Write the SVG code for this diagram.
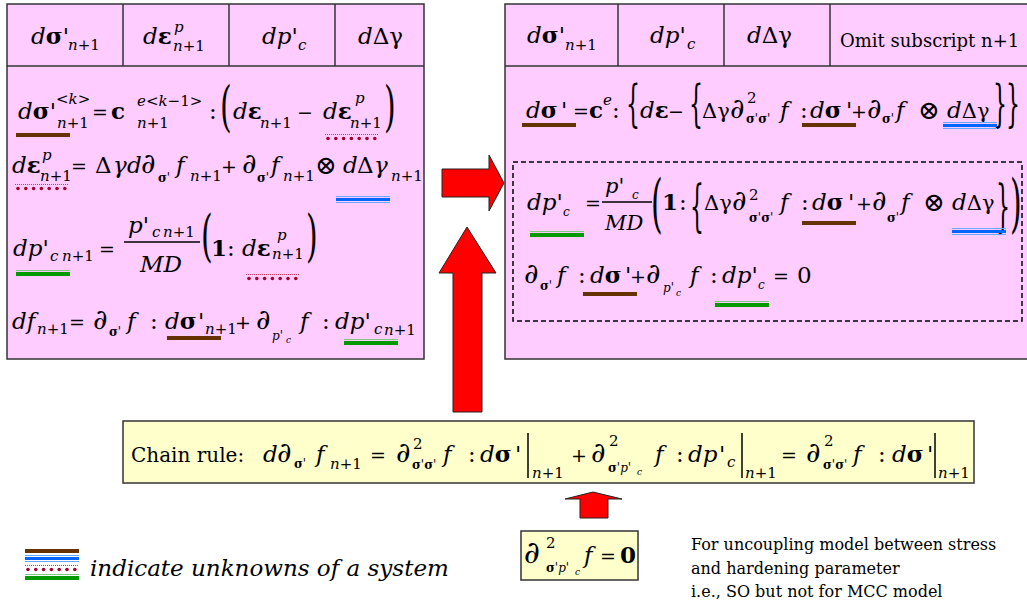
<svg xmlns="http://www.w3.org/2000/svg" width="1027" height="610" viewBox="0 0 1027 610">
<defs>
<style>
.t{font-family:'DejaVu Serif',serif;fill:#000}
.m{font-size:23px}
.n{font-size:21px}
.i{font-style:italic}
.b{font-weight:bold}
.s{font-size:15px}
.x{font-size:12px}
.y{font-size:9px}
.o{font-size:19px}
.g{font-size:21px}
.p{font-size:28px}
.q{font-size:26px}
.box{fill:#ffccff;stroke:#333;stroke-width:1.5}
.yb{fill:#ffffcc;stroke:#333;stroke-width:1.5}
.ln{stroke:#333;stroke-width:1.5;fill:none}
.bar{stroke:#000;stroke-width:1.5}
.arr{fill:#ff0000;stroke:#222;stroke-width:1}
.note{font-family:'DejaVu Serif',serif;font-size:16px;fill:#000}
</style>
<g id="ub"><rect x="0" y="0" width="54" height="4" fill="#663300"/></g>
<g id="ug"><rect x="0" y="0" width="54" height="1" fill="#80c880"/><rect x="0" y="2" width="54" height="4" fill="#009900"/></g>
<g id="ul"><rect x="0" y="0" width="54" height="1" fill="#66aaff"/><rect x="0" y="2" width="54" height="3" fill="#0066ff"/><rect x="0" y="6" width="54" height="1" fill="#66aaff"/></g>
<g id="ur"><line x1="0" y1="0.5" x2="54" y2="0.5" stroke="#cc3366" stroke-width="1" stroke-dasharray="1,1"/><g fill="#a00030"><circle cx="3" cy="4.5" r="1.8"/><circle cx="10.8" cy="4.5" r="1.8"/><circle cx="18.6" cy="4.5" r="1.8"/><circle cx="26.4" cy="4.5" r="1.8"/><circle cx="34.2" cy="4.5" r="1.8"/><circle cx="42" cy="4.5" r="1.8"/><circle cx="49.8" cy="4.5" r="1.8"/></g></g>
</defs>
<rect width="1027" height="610" fill="#fff"/>

<g id="arrows">
<polygon class="arr" points="442,169 489,169 489,155 504,183 489,211 489,197 442,197"/>
<polygon class="arr" points="453,412 453,273 439,273 467,227 496,273 482,273 482,412"/>
<polygon class="arr" points="580,518 580,499 565,499 593,492 622,499 608,499 608,518"/>
</g>

<g id="left">
<rect class="box" x="7" y="4" width="417" height="355"/>
<line class="ln" x1="7" y1="66" x2="424" y2="66"/>
<line class="ln" x1="123" y1="4" x2="123" y2="66"/>
<line class="ln" x1="229" y1="4" x2="229" y2="66"/>
<line class="ln" x1="335" y1="4" x2="335" y2="66"/>
<text class="t m"><tspan class="i" x="31" y="44">d</tspan><tspan class="b">σ</tspan><tspan>'</tspan><tspan class="s i" x="68" y="50">n</tspan><tspan class="s">+1</tspan></text>
<text class="t m"><tspan class="i" x="143" y="44">d</tspan><tspan class="b">ε</tspan><tspan class="s i" x="174" y="32">p</tspan><tspan class="s i" x="173" y="51">n</tspan><tspan class="s">+1</tspan></text>
<text class="t m"><tspan class="i" x="262" y="44">dp</tspan><tspan>'</tspan><tspan class="s i" x="298" y="50">c</tspan></text>
<text class="t m"><tspan class="i" x="358" y="44">d</tspan><tspan>Δγ</tspan></text>

<text class="t m"><tspan class="i" x="18" y="119">d</tspan><tspan class="b">σ</tspan><tspan>'</tspan><tspan class="s" x="56" y="104">&lt;</tspan><tspan class="s i">k</tspan><tspan class="s">&gt;</tspan><tspan class="s i" x="57" y="128">n</tspan><tspan class="s">+1</tspan><tspan class="o" x="92" y="119">=</tspan><tspan class="b" x="111" y="119">c</tspan><tspan class="s i" x="137" y="106">e</tspan><tspan class="s">&lt;</tspan><tspan class="s i">k</tspan><tspan class="s">−1&gt;</tspan><tspan class="s i" x="137" y="128">n</tspan><tspan class="s">+1</tspan><tspan x="209" y="119">:</tspan><tspan class="i" x="233" y="119">d</tspan><tspan class="b">ε</tspan><tspan class="s i" x="260" y="128">n</tspan><tspan class="s">+1</tspan><tspan class="o" x="297" y="119">−</tspan><tspan class="i" x="323" y="119">d</tspan><tspan class="b">ε</tspan><tspan class="s i" x="355" y="103">p</tspan><tspan class="s i" x="350" y="128">n</tspan><tspan class="s">+1</tspan></text>
<text class="t" font-size="30" transform="translate(220,124.8) scale(1,1.835)">(</text>
<text class="t" font-size="30" transform="translate(384,124.8) scale(1,1.835)">)</text>
<use href="#ub" x="16" y="133"/>
<use href="#ur" x="325" y="134"/>

<text class="t m"><tspan class="i" x="12" y="173">d</tspan><tspan class="b">ε</tspan><tspan class="s i" x="42" y="160">p</tspan><tspan class="s i" x="40" y="181">n</tspan><tspan class="s">+1</tspan><tspan class="o" x="71" y="173">=</tspan><tspan x="95" y="173">Δ</tspan><tspan class="i" x="113" y="173">γ</tspan><tspan class="i" x="127" y="173">d</tspan><tspan class="p" x="141" y="173">∂</tspan><tspan class="b x" x="158" y="182">σ</tspan><tspan class="x">'</tspan><tspan class="i" x="176" y="173">f</tspan><tspan class="s i" x="190" y="181">n</tspan><tspan class="s">+1</tspan><tspan class="o" x="221" y="173">+</tspan><tspan class="p" x="242" y="173">∂</tspan><tspan class="b x" x="257" y="182">σ</tspan><tspan class="x">'</tspan><tspan class="i" x="271" y="173">f</tspan><tspan class="s i" x="283" y="181">n</tspan><tspan class="s">+1</tspan><tspan class="q" x="315" y="174">⊗</tspan><tspan class="i" x="343" y="173">d</tspan><tspan x="357" y="173">Δ</tspan><tspan class="i" x="374" y="173">γ</tspan><tspan class="s i" x="391" y="181">n</tspan><tspan class="s">+1</tspan></text>
<use href="#ur" x="15" y="184"/>
<use href="#ul" x="336" y="196"/>

<text class="t m"><tspan class="i" x="13" y="256">dp</tspan><tspan>'</tspan><tspan class="s i" x="50" y="261">c</tspan><tspan class="s i" x="62" y="261">n</tspan><tspan class="s">+1</tspan><tspan class="o" x="99" y="256">=</tspan><tspan class="i" x="128" y="233">p</tspan><tspan>'</tspan><tspan class="s i" x="152" y="237">c</tspan><tspan class="s i" x="163" y="237">n</tspan><tspan class="s">+1</tspan><tspan class="i" x="140" y="272">MD</tspan><tspan class="b" x="211" y="256">1</tspan><tspan x="227" y="256">:</tspan><tspan class="i" x="242" y="256">d</tspan><tspan class="b">ε</tspan><tspan class="s i" x="277" y="240">p</tspan><tspan class="s i" x="272" y="259">n</tspan><tspan class="s">+1</tspan></text>
<line class="bar" x1="124" y1="242" x2="200" y2="242"/>
<text class="t" font-size="30" transform="translate(201,254.7) scale(1,1.87)">(</text>
<text class="t" font-size="30" transform="translate(306,254.7) scale(1,1.87)">)</text>
<use href="#ug" x="16" y="270"/>
<use href="#ur" x="246" y="274"/>

<text class="t m"><tspan class="i" x="12" y="329">df</tspan><tspan class="s i" x="37" y="334">n</tspan><tspan class="s">+1</tspan><tspan class="o" x="69" y="329">=</tspan><tspan class="p" x="93" y="329">∂</tspan><tspan class="b x" x="109" y="336">σ</tspan><tspan class="x">'</tspan><tspan class="i" x="127" y="329">f</tspan><tspan x="150" y="329">:</tspan><tspan class="i" x="165" y="329">d</tspan><tspan class="b">σ</tspan><tspan x="198" y="329">'</tspan><tspan class="s i" x="205" y="334">n</tspan><tspan class="s">+1</tspan><tspan class="o" x="235" y="329">+</tspan><tspan class="p" x="256" y="329">∂</tspan><tspan class="i x" x="272" y="340">p</tspan><tspan class="x">'</tspan><tspan class="i y" x="286" y="343">c</tspan><tspan class="i" x="300" y="329">f</tspan><tspan x="322" y="329">:</tspan><tspan class="i" x="335" y="329">dp</tspan><tspan>'</tspan><tspan class="s i" x="374" y="334">c</tspan><tspan class="s i" x="384" y="335">n</tspan><tspan class="s">+1</tspan></text>
<use href="#ub" x="167" y="336"/>
<use href="#ug" x="344" y="339"/>
</g>

<g id="right">
<rect class="box" x="505" y="4" width="540" height="355"/>
<line class="ln" x1="505" y1="66" x2="1027" y2="66"/>
<line class="ln" x1="618" y1="4" x2="618" y2="66"/>
<line class="ln" x1="724" y1="4" x2="724" y2="66"/>
<line class="ln" x1="830" y1="4" x2="830" y2="66"/>
<text class="t m"><tspan class="i" x="527" y="43">d</tspan><tspan class="b">σ</tspan><tspan>'</tspan><tspan class="s i" x="565" y="50">n</tspan><tspan class="s">+1</tspan></text>
<text class="t m"><tspan class="i" x="650" y="43">dp</tspan><tspan>'</tspan><tspan class="s i" x="687" y="49">c</tspan></text>
<text class="t m"><tspan class="i" x="747" y="43">d</tspan><tspan>Δγ</tspan></text>
<text class="t" font-size="18" x="840" y="47">Omit subscript n+1</text>

<text class="t m"><tspan class="i" x="526" y="118">d</tspan><tspan class="b">σ</tspan><tspan x="561" y="118">'</tspan><tspan class="o" x="573" y="118">=</tspan><tspan class="b" x="589" y="118">c</tspan><tspan class="s i" x="603" y="105">e</tspan><tspan x="612" y="118">:</tspan><tspan class="i" x="640" y="118">d</tspan><tspan class="b">ε</tspan><tspan class="o" x="668" y="118">−</tspan><tspan class="g" x="702" y="118">Δγ</tspan><tspan class="p" x="730" y="118">∂</tspan><tspan class="s" x="747" y="103">2</tspan><tspan class="b x" x="746" y="123">σ</tspan><tspan class="x">'</tspan><tspan class="b x">σ</tspan><tspan class="x">'</tspan><tspan class="i" x="780" y="118">f</tspan><tspan x="800" y="118">:</tspan><tspan class="i" x="810" y="118">d</tspan><tspan class="b">σ</tspan><tspan x="846" y="118">'</tspan><tspan class="o" x="851" y="118">+</tspan><tspan class="p" x="867" y="118">∂</tspan><tspan class="b x" x="882" y="123">σ</tspan><tspan class="x">'</tspan><tspan class="i" x="896" y="118">f</tspan><tspan class="q" x="918" y="119">⊗</tspan><tspan class="i" x="947" y="118">d</tspan><tspan class="g">Δγ</tspan></text>
<text class="t" font-size="22" transform="translate(626,120.6) scale(1,2.25)">{</text>
<text class="t" font-size="22" transform="translate(689,120.6) scale(1,2.25)">{</text>
<text class="t" font-size="22" transform="translate(993,120.6) scale(1,2.25)">}</text>
<text class="t" font-size="22" transform="translate(1006,120.6) scale(1,2.25)">}</text>
<use href="#ub" x="522" y="123"/>
<use href="#ub" x="802" y="123"/>
<use href="#ul" x="943" y="122"/>

<rect x="513" y="162" width="509" height="159" fill="none" stroke="#000" stroke-width="1.5" stroke-dasharray="5,3"/>

<text class="t m"><tspan class="i" x="527" y="210">dp</tspan><tspan>'</tspan><tspan class="i x" x="563" y="216">c</tspan><tspan class="o" x="585" y="210">=</tspan><tspan class="i n" x="605" y="193">p</tspan><tspan class="n">'</tspan><tspan class="i x" x="632" y="199">c</tspan><tspan class="i n" x="605" y="230">MD</tspan><tspan class="b" x="662" y="210">1</tspan><tspan x="679" y="210">:</tspan><tspan class="g" x="704" y="210">Δγ</tspan><tspan class="p" x="732" y="210">∂</tspan><tspan class="s" x="749" y="200">2</tspan><tspan class="b x" x="749" y="222">σ</tspan><tspan class="x">'</tspan><tspan class="b x">σ</tspan><tspan class="x">'</tspan><tspan class="i" x="780" y="210">f</tspan><tspan x="801" y="210">:</tspan><tspan class="i" x="812" y="210">d</tspan><tspan class="b">σ</tspan><tspan x="848" y="210">'</tspan><tspan class="o" x="856" y="210">+</tspan><tspan class="p" x="872" y="210">∂</tspan><tspan class="b x" x="887" y="222">σ</tspan><tspan class="x">'</tspan><tspan class="i" x="901" y="210">f</tspan><tspan class="q" x="923" y="211">⊗</tspan><tspan class="i" x="952" y="210">d</tspan><tspan class="g">Δγ</tspan></text>
<line class="bar" x1="602" y1="202" x2="652" y2="202"/>
<text class="t" font-size="30" transform="translate(651,224.8) scale(1,2.1)">(</text>
<text class="t" font-size="22" transform="translate(690,224.6) scale(1,2.55)">{</text>
<text class="t" font-size="22" transform="translate(996,224.6) scale(1,2.55)">}</text>
<text class="t" font-size="30" transform="translate(1010,224.8) scale(1,2.1)">)</text>
<use href="#ug" x="530" y="231"/>
<use href="#ub" x="802" y="221"/>
<use href="#ul" x="952" y="228"/>

<text class="t m"><tspan class="p" x="524" y="283">∂</tspan><tspan class="b x" x="540" y="290">σ</tspan><tspan class="x">'</tspan><tspan class="i" x="557" y="283">f</tspan><tspan x="578" y="283">:</tspan><tspan class="i" x="590" y="283">d</tspan><tspan class="b">σ</tspan><tspan x="625" y="283">'</tspan><tspan class="o" x="630" y="283">+</tspan><tspan class="p" x="646" y="283">∂</tspan><tspan class="i x" x="663" y="292">p</tspan><tspan class="x">'</tspan><tspan class="i y" x="676" y="296">c</tspan><tspan class="i" x="690" y="283">f</tspan><tspan x="710" y="283">:</tspan><tspan class="i" x="722" y="283">dp</tspan><tspan>'</tspan><tspan class="i x" x="758" y="289">c</tspan><tspan class="o" x="773" y="283">=</tspan><tspan x="797" y="283">0</tspan></text>
<use href="#ub" x="583" y="292"/>
<use href="#ug" x="715" y="301"/>
</g>

<g id="chain">
<rect class="yb" x="123" y="421" width="851" height="62"/>
<text class="t" font-size="20" x="131" y="462">Chain rule:</text>
<text class="t m"><tspan class="i" x="263" y="462">d</tspan><tspan class="p" x="277" y="462">∂</tspan><tspan class="b x" x="294" y="468">σ</tspan><tspan class="x">'</tspan><tspan class="i" x="316" y="462">f</tspan><tspan class="s i" x="330" y="469">n</tspan><tspan class="s">+1</tspan><tspan class="o" x="370" y="462">=</tspan><tspan class="p" x="396" y="462">∂</tspan><tspan class="s" x="413" y="449">2</tspan><tspan class="b x" x="412" y="469">σ</tspan><tspan class="x">'</tspan><tspan class="b x">σ</tspan><tspan class="x">'</tspan><tspan class="i" x="443" y="462">f</tspan><tspan x="468" y="462">:</tspan><tspan class="i" x="480" y="462">d</tspan><tspan class="b">σ</tspan><tspan x="515" y="462">'</tspan><tspan class="s i" x="532" y="478">n</tspan><tspan class="s">+1</tspan><tspan class="o" x="571" y="462">+</tspan><tspan class="p" x="591" y="462">∂</tspan><tspan class="s" x="609" y="446">2</tspan><tspan class="b x" x="608" y="472">σ</tspan><tspan class="x">'</tspan><tspan class="i x">p</tspan><tspan class="x">'</tspan><tspan class="i y" x="637" y="475">c</tspan><tspan class="i" x="655" y="462">f</tspan><tspan x="676" y="462">:</tspan><tspan class="i" x="688" y="462">dp</tspan><tspan x="719" y="462">'</tspan><tspan class="s i" x="727" y="467">c</tspan><tspan class="s i" x="745" y="478">n</tspan><tspan class="s">+1</tspan><tspan class="o" x="781" y="462">=</tspan><tspan class="p" x="806" y="462">∂</tspan><tspan class="s" x="824" y="446">2</tspan><tspan class="b x" x="823" y="469">σ</tspan><tspan class="x">'</tspan><tspan class="b x">σ</tspan><tspan class="x">'</tspan><tspan class="i" x="853" y="462">f</tspan><tspan x="878" y="462">:</tspan><tspan class="i" x="892" y="462">d</tspan><tspan class="b">σ</tspan><tspan x="927" y="462">'</tspan><tspan class="s i" x="938" y="478">n</tspan><tspan class="s">+1</tspan></text>
<line class="bar" x1="528" y1="433" x2="528" y2="478"/>
<line class="bar" x1="742" y1="433" x2="742" y2="478"/>
<line class="bar" x1="935" y1="433" x2="935" y2="478"/>
</g>

<g id="zero">
<rect class="yb" x="521" y="531" width="117" height="49"/>
<text class="t m"><tspan x="524" y="563" font-size="31">∂</tspan><tspan class="s" x="546" y="548">2</tspan><tspan class="b x" x="546" y="572">σ</tspan><tspan class="x">'</tspan><tspan class="i x">p</tspan><tspan class="x">'</tspan><tspan class="i y" x="575" y="575">c</tspan><tspan class="i" x="584" y="563">f</tspan><tspan class="o" x="600" y="563">=</tspan><tspan class="b" x="620" y="563">0</tspan></text>
</g>

<g id="note">
<text class="note" x="691" y="550">For uncoupling model between stress</text>
<text class="note" x="691" y="574">and hardening parameter</text>
<text class="note" x="691" y="597">i.e., SO but not for MCC model</text>
</g>

<g id="legend">
<use href="#ub" x="25" y="549"/>
<use href="#ul" x="25" y="555"/>
<use href="#ur" x="25" y="565"/>
<use href="#ug" x="25" y="574"/>
<text class="t i" font-size="23" x="90" y="576">indicate unknowns of a system</text>
</g>
</svg>
